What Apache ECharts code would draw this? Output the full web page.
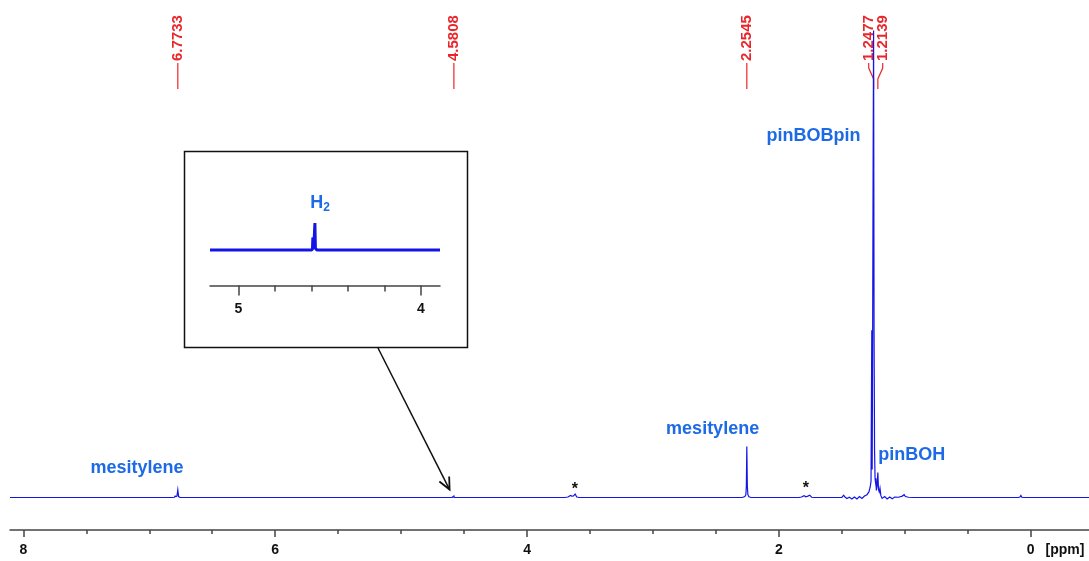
<!DOCTYPE html>
<html>
<head>
<meta charset="utf-8">
<title>1H NMR spectrum</title>
<script src="https://cdn.jsdelivr.net/npm/echarts@6/dist/echarts.min.js"></script>
<style>
  html, body { margin: 0; padding: 0; background: #fff; }
  #chart { width: 1089px; height: 561px; }
</style>
</head>
<body>
<div id="chart"></div>
<script>
// Spectrum trace: [chemical shift (ppm), relative intensity], tallest line = 100
const spectrum = [
  [8.2, 0], [6.82, 0], [6.80, 0.05], [6.795, 0.3], [6.788, 0.2], [6.780, 0.3],
  [6.7733, 1.65], [6.767, 0.2], [6.755, 0],
  [4.62, 0], [4.600, 0], [4.594, 0.01], [4.592, 0.14], [4.588, 0.12], [4.584, 0.15],
  [4.5808, 0.30], [4.578, 0.02], [4.57, 0],
  [3.70, 0], [3.675, 0.1], [3.655, 0.45], [3.645, 0.3], [3.63, 0.35], [3.618, 0.75],
  [3.605, 0.1], [3.585, 0],
  [2.29, 0], [2.27, 0.2], [2.262, 0.6], [2.258, 2.5], [2.2545, 10.9], [2.2505, 2.5],
  [2.246, 0.6], [2.238, 0.15], [2.22, 0],
  [1.84, 0], [1.82, 0.1], [1.80, 0.4], [1.785, 0.15], [1.77, 0.3], [1.755, 0.5],
  [1.74, 0.05], [1.72, 0],
  [1.50, 0], [1.485, 0.5], [1.475, 0.1], [1.46, -0.2], [1.44, 0.05], [1.42, -0.3],
  [1.40, 0.1], [1.38, -0.3], [1.36, 0.2], [1.34, -0.2], [1.32, 0.3], [1.30, 0.6],
  [1.285, 1.2], [1.275, 2.2], [1.268, 3.5], [1.262, 35.8], [1.259, 6], [1.255, 35.8],
  [1.2515, 70.7], [1.2477, 100], [1.244, 35.8], [1.240, 10], [1.236, 4], [1.232, 3.2],
  [1.229, 4.1], [1.226, 1.5], [1.220, 2.5], [1.2139, 5.35], [1.209, 1.8], [1.203, 1.2],
  [1.197, 2.0], [1.19, 0.4], [1.18, -0.2], [1.16, 0.2], [1.14, -0.3], [1.12, 0.1],
  [1.10, -0.25], [1.08, 0.1], [1.05, 0.05], [1.02, 0.3], [1.005, 0.6], [0.995, 0.2],
  [0.97, 0.05], [0.94, 0],
  [0.10, 0], [0.085, 0.1], [0.078, 0.45], [0.07, 0.05], [0.06, 0], [-0.6, 0]
];

// Picked peak positions (ppm) printed across the top
const peakShifts = [6.7733, 4.5808, 2.2545, 1.2477, 1.2139];

// Assignment labels: [ppm, intensity, text]
const assignments = [
  [7.097, 6.3, 'mesitylene'],
  [2.526, 14.7, 'mesitylene'],
  [1.724, 77.4, 'pinBOBpin'],
  [0.945, 9.1, 'pinBOH']
];
// Impurity markers: [ppm, intensity]
const impurityMarks = [
  [3.620, 1.7],
  [1.785, 1.9]
];
const insetAssignment = [4.553, 0.52, 'H2'];

// Axis ticks
const mainMajorTicks = [0, 2, 4, 6, 8];
const mainMinorTicks = [0.5, 1, 1.5, 2.5, 3, 3.5, 4.5, 5, 5.5, 6.5, 7, 7.5];
const insetMajorTicks = [4, 5];
const insetMinorTicks = [4.2, 4.4, 4.6, 4.8];

const FONT = 'Arial, "Liberation Sans", Helvetica, sans-serif';
const TRACE = '#1414e6';
const LABEL_BLUE = '#1c6ae6';
const PEAK_RED = '#e8262b';
const AXIS_GREY = '#444';

const chart = echarts.init(document.getElementById('chart'), null, { renderer: 'canvas' });

// Horizontal label positions, spreading labels of nearby peaks apart
function labelPositions(api) {
  const xs = peakShifts.map(v => api.coord([v, 0])[0]);
  const order = xs.map((x, i) => i).sort((a, b) => xs[a] - xs[b]);
  const gap = 14;
  const out = xs.slice();
  let cluster = [order[0]];
  const flush = () => {
    const mean = cluster.reduce((s, i) => s + xs[i], 0) / cluster.length;
    cluster.forEach((idx, k) => {
      out[idx] = cluster.length > 1 ? mean + (k - (cluster.length - 1) / 2) * gap : xs[idx];
    });
  };
  for (let k = 1; k < order.length; k++) {
    const i = order[k];
    if (xs[i] - xs[cluster[cluster.length - 1]] < gap) cluster.push(i);
    else { flush(); cluster = [i]; }
  }
  flush();
  return { xs, out };
}

function renderPeakLabel(params, api) {
  const idx = params.dataIndex;
  const pos = labelPositions(api);
  const px = pos.xs[idx];
  const lx = pos.out[idx];
  return {
    type: 'group',
    children: [
      {
        type: 'text',
        x: lx,
        y: 61,
        rotation: Math.PI / 2,
        style: {
          text: peakShifts[idx].toFixed(4),
          fill: PEAK_RED,
          font: 'bold 15px ' + FONT,
          align: 'left',
          verticalAlign: 'middle'
        }
      },
      {
        type: 'polyline',
        shape: { points: [[lx, 63], [lx, 68], [px, 79], [px, 89]] },
        style: { stroke: PEAK_RED, lineWidth: 1.2, fill: null }
      }
    ]
  };
}

// Whole trace as one polyline (every point kept, no segment thinning)
function traceRenderer(width, join) {
  return function (params, api) {
    if (params.dataIndex !== 0) return null;
    const pts = spectrum.map(p => api.coord(p));
    return {
      type: 'polyline',
      shape: { points: pts },
      style: { stroke: TRACE, lineWidth: width, fill: null, lineJoin: join }
    };
  };
}

function tickAxis(gridIndex, min, max, ticks, tickLen, withLine, labelMargin) {
  return {
    type: 'value', gridIndex, position: 'bottom', inverse: true,
    min, max,
    axisLine: { show: withLine, onZero: false, lineStyle: { color: AXIS_GREY, width: 1.5 } },
    axisTick: { show: true, length: tickLen, lineStyle: { color: AXIS_GREY, width: 1.5 }, customValues: ticks },
    axisLabel: withLine
      ? { show: true, customValues: ticks, margin: labelMargin, color: '#111', fontSize: 14, fontWeight: 'bold', fontFamily: FONT }
      : { show: false },
    splitLine: { show: false }
  };
}

const option = {
  animation: false,
  backgroundColor: '#fff',
  grid: [
    { left: 10, right: 0, top: 20, bottom: 31 },
    { left: 210, width: 230, top: 200, height: 85.5 }
  ],
  xAxis: [
    tickAxis(0, -0.463, 8.106, mainMajorTicks, 7, true, 13),
    tickAxis(0, -0.463, 8.106, mainMinorTicks, 4, false),
    tickAxis(1, 3.896, 5.155, insetMajorTicks, 10, true, 17),
    tickAxis(1, 3.896, 5.155, insetMinorTicks, 6, false)
  ],
  yAxis: [
    { type: 'value', gridIndex: 0, min: -6.96, max: 102.25, show: false },
    { type: 'value', gridIndex: 1, min: -0.394, max: 0.556, show: false }
  ],
  series: [
    {
      name: 'peak picks',
      type: 'custom',
      xAxisIndex: 0, yAxisIndex: 0,
      clip: false,
      silent: true,
      z: 1,
      encode: { x: 0, y: 1 },
      data: peakShifts.map(v => [v, 0]),
      renderItem: renderPeakLabel
    },
    {
      name: 'spectrum',
      type: 'custom',
      xAxisIndex: 0, yAxisIndex: 0,
      clip: true,
      silent: true,
      z: 3,
      encode: { x: 0, y: 1 },
      data: spectrum,
      renderItem: traceRenderer(1.2, 'miter')
    },
    {
      name: 'inset',
      type: 'custom',
      xAxisIndex: 2, yAxisIndex: 1,
      clip: true,
      silent: true,
      z: 3,
      encode: { x: 0, y: 1 },
      data: spectrum,
      renderItem: traceRenderer(3, 'bevel')
    },
    {
      name: 'assignments',
      type: 'scatter',
      xAxisIndex: 0, yAxisIndex: 0,
      symbolSize: 0,
      silent: true,
      z: 4,
      itemStyle: { opacity: 1 },
      data: assignments.map(a => ({ value: [a[0], a[1]], name: a[2] })),
      label: {
        show: true, position: 'inside', formatter: '{b}',
        fontFamily: FONT, fontWeight: 'bold', fontSize: 18, color: LABEL_BLUE
      },
      labelLayout: { hideOverlap: false }
    },
    {
      name: 'impurities',
      type: 'scatter',
      xAxisIndex: 0, yAxisIndex: 0,
      symbolSize: 0,
      silent: true,
      z: 4,
      itemStyle: { opacity: 1 },
      data: impurityMarks,
      label: {
        show: true, position: 'inside', formatter: '*',
        fontFamily: FONT, fontWeight: 'bold', fontSize: 16, color: '#111'
      }
    },
    {
      name: 'inset assignment',
      type: 'scatter',
      xAxisIndex: 2, yAxisIndex: 1,
      symbolSize: 0,
      silent: true,
      z: 4,
      itemStyle: { opacity: 1 },
      data: [{ value: [insetAssignment[0], insetAssignment[1]], name: insetAssignment[2] }],
      label: {
        show: true, position: 'inside',
        formatter: () => '{h|H}{s|2}',
        rich: {
          h: { fontFamily: FONT, fontWeight: 'bold', fontSize: 18, color: LABEL_BLUE, lineHeight: 20 },
          s: { fontFamily: FONT, fontWeight: 'bold', fontSize: 12, color: LABEL_BLUE, lineHeight: 20, padding: [9, 0, 0, 0] }
        }
      }
    }
  ]
};

chart.setOption(option);

// Inset frame, pointer arrow and unit label
const tip = chart.convertToPixel({ xAxisIndex: 0, yAxisIndex: 0 }, [4.615, 1.7]);
const tail = [378, 348];
const dx = tip[0] - tail[0], dy = tip[1] - tail[1];
const len = Math.hypot(dx, dy);
const ux = dx / len, uy = dy / len;
const headLen = 13, ang = 25 * Math.PI / 180;
const rot = (x, y, a) => [x * Math.cos(a) - y * Math.sin(a), x * Math.sin(a) + y * Math.cos(a)];
const h1 = rot(-ux, -uy, ang), h2 = rot(-ux, -uy, -ang);

chart.setOption({
  graphic: [
    {
      type: 'rect', silent: true,
      shape: { x: 184.5, y: 151.5, width: 283, height: 196 },
      style: { fill: null, stroke: '#111', lineWidth: 1.5 }
    },
    {
      type: 'line', silent: true,
      shape: { x1: tail[0], y1: tail[1], x2: tip[0], y2: tip[1] },
      style: { stroke: '#111', lineWidth: 1.5 }
    },
    {
      type: 'polyline', silent: true,
      shape: { points: [
        [tip[0] + h1[0] * headLen, tip[1] + h1[1] * headLen],
        [tip[0], tip[1]],
        [tip[0] + h2[0] * headLen, tip[1] + h2[1] * headLen]
      ] },
      style: { stroke: '#111', lineWidth: 1.8, fill: null }
    },
    {
      type: 'text', silent: true,
      x: 1065, y: 550,
      style: { text: '[ppm]', fill: '#111', font: 'bold 14px ' + FONT, align: 'center', verticalAlign: 'middle' }
    }
  ]
});
</script>
</body>
</html>
